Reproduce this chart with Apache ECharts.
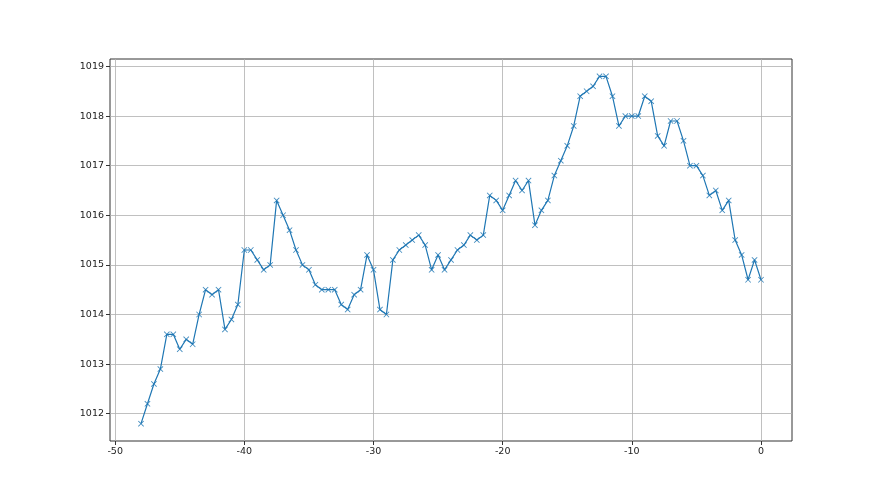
<!DOCTYPE html>
<html>
<head>
<meta charset="utf-8">
<script src="https://cdn.jsdelivr.net/npm/echarts@6/dist/echarts.min.js"></script>
<style>
  html, body { margin: 0; padding: 0; background: #fff; }
  #chart { width: 880px; height: 495px; }
</style>
</head>
<body>
<div id="chart"></div>
<script>
// time offsets (x) and readings (y)
const hours = [
  -48, -47.5, -47, -46.5, -46, -45.5, -45, -44.5, -44, -43.5,
  -43, -42.5, -42, -41.5, -41, -40.5, -40, -39.5, -39, -38.5,
  -38, -37.5, -37, -36.5, -36, -35.5, -35, -34.5, -34, -33.5,
  -33, -32.5, -32, -31.5, -31, -30.5, -30, -29.5, -29, -28.5,
  -28, -27.5, -27, -26.5, -26, -25.5, -25, -24.5, -24, -23.5,
  -23, -22.5, -22, -21.5, -21, -20.5, -20, -19.5, -19, -18.5,
  -18, -17.5, -17, -16.5, -16, -15.5, -15, -14.5, -14, -13.5,
  -13, -12.5, -12, -11.5, -11, -10.5, -10, -9.5, -9, -8.5,
  -8, -7.5, -7, -6.5, -6, -5.5, -5, -4.5, -4, -3.5,
  -3, -2.5, -2, -1.5, -1, -0.5, 0
];
const pressure = [
  1011.8, 1012.2, 1012.6, 1012.9, 1013.6, 1013.6, 1013.3, 1013.5, 1013.4, 1014.0,
  1014.5, 1014.4, 1014.5, 1013.7, 1013.9, 1014.2, 1015.3, 1015.3, 1015.1, 1014.9,
  1015.0, 1016.3, 1016.0, 1015.7, 1015.3, 1015.0, 1014.9, 1014.6, 1014.5, 1014.5,
  1014.5, 1014.2, 1014.1, 1014.4, 1014.5, 1015.2, 1014.9, 1014.1, 1014.0, 1015.1,
  1015.3, 1015.4, 1015.5, 1015.6, 1015.4, 1014.9, 1015.2, 1014.9, 1015.1, 1015.3,
  1015.4, 1015.6, 1015.5, 1015.6, 1016.4, 1016.3, 1016.1, 1016.4, 1016.7, 1016.5,
  1016.7, 1015.8, 1016.1, 1016.3, 1016.8, 1017.1, 1017.4, 1017.8, 1018.4, 1018.5,
  1018.6, 1018.8, 1018.8, 1018.4, 1017.8, 1018.0, 1018.0, 1018.0, 1018.4, 1018.3,
  1017.6, 1017.4, 1017.9, 1017.9, 1017.5, 1017.0, 1017.0, 1016.8, 1016.4, 1016.5,
  1016.1, 1016.3, 1015.5, 1015.2, 1014.7, 1015.1, 1014.7
];
const xTicks = [-50, -40, -30, -20, -10, 0];
const yTicks = [1012, 1013, 1014, 1015, 1016, 1017, 1018, 1019];

const myChart = echarts.init(document.getElementById('chart'));

const axisText = { color: '#222', fontFamily: 'DejaVu Sans', fontSize: 9.5 };

const option = {
  backgroundColor: '#fff',
  animation: false,
  grid: {
    left: 110,
    right: 88,
    top: 59,
    bottom: 54,
    show: true,
    borderColor: '#333',
    borderWidth: 1,
    backgroundColor: 'transparent'
  },
  xAxis: {
    type: 'value',
    min: -50.4,
    max: 2.4,
    axisLine: { show: false, onZero: false },
    axisTick: { show: true, length: 4, customValues: xTicks, lineStyle: { color: '#333' } },
    axisLabel: { ...axisText, margin: 6, customValues: xTicks },
    splitLine: { show: true, lineStyle: { color: '#b0b0b0', width: 0.8 } }
  },
  yAxis: {
    type: 'value',
    min: 1011.45,
    max: 1019.15,
    axisLine: { show: false, onZero: false },
    axisTick: { show: true, length: 4, customValues: yTicks, lineStyle: { color: '#333' } },
    axisLabel: { ...axisText, margin: 6, customValues: yTicks, formatter: v => String(v) },
    splitLine: { show: true, lineStyle: { color: '#b0b0b0', width: 0.8 } }
  },
  series: [
    {
      type: 'line',
      data: hours.map((h, i) => [h, pressure[i]]),
      symbol: 'path://M0,1L1,0L5,4L9,0L10,1L6,5L10,9L9,10L5,6L1,10L0,9L4,5Z',
      symbolSize: 6,
      showAllSymbol: true,
      lineStyle: { color: '#1f77b4', width: 1.2 },
      itemStyle: { color: '#1f77b4', opacity: 0.85 }
    }
  ]
};

myChart.setOption(option);
</script>
</body>
</html>
